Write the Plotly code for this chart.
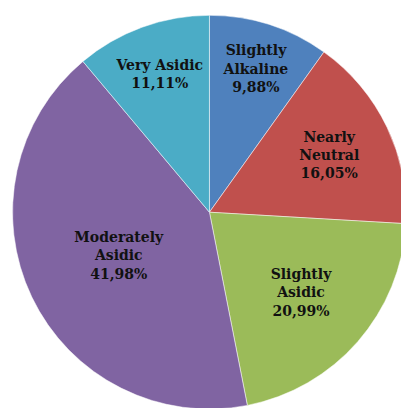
import plotly.graph_objects as go

labels = ["Slightly<br>Alkaline", "Nearly<br>Neutral", "Slightly<br>Asidic", "Moderately<br>Asidic", "Very Asidic"]
values = [9.88, 16.05, 20.99, 41.98, 11.11]
colors = ["#4F81BD", "#C0504D", "#9BBB59", "#8064A2", "#4BACC6"]

fig = go.Figure(go.Pie(
    labels=labels,
    values=values,
    sort=False,
    direction="clockwise",
    rotation=0,
    marker=dict(colors=colors, line=dict(color="white", width=0.5)),
    texttemplate="<b>%{label}<br>%{value:.2f}%</b>",
    textposition="inside",
    insidetextorientation="horizontal",
    textfont=dict(family="DejaVu Serif", size=14, color="#111111"),
    domain=dict(x=[0.0, 0.985], y=[0.017, 0.982]),
    showlegend=False,
    hoverinfo="skip",
))
fig.update_layout(
    width=409, height=408,
    margin=dict(l=0, r=0, t=0, b=0),
    paper_bgcolor="white",
    separators=",.",
)
fig.write_html("out.html")
